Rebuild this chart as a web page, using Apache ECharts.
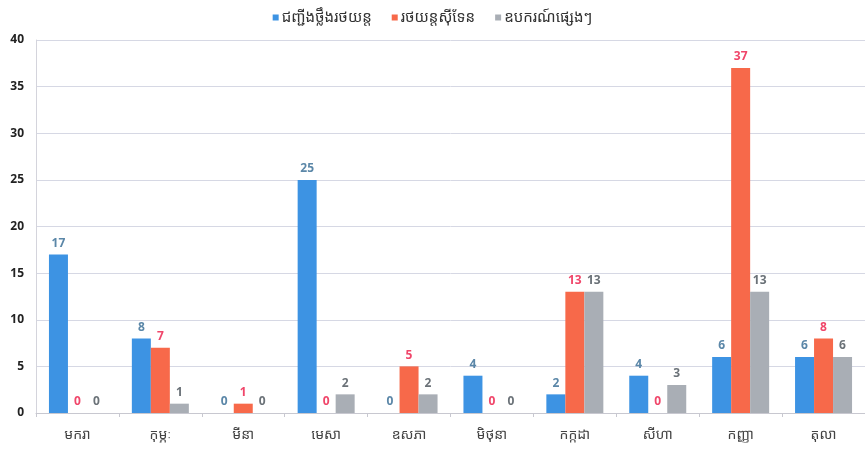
<!DOCTYPE html>
<html>
<head>
<meta charset="utf-8">
<script src="https://cdn.jsdelivr.net/npm/echarts@6/dist/echarts.min.js"></script>
<style>
  html, body { margin: 0; padding: 0; background: #fff; }
  #chart { width: 865px; height: 451px; }
</style>
</head>
<body>
<div id="chart"></div>
<script>
// months (Khmer)
const months = ['មករា', 'កុម្ភៈ', 'មីនា', 'មេសា', 'ឧសភា', 'មិថុនា', 'កក្កដា', 'សីហា', 'កញ្ញា', 'តុលា']
const seriesNames = ['ជញ្ជីងថ្លឹងរថយន្ត', 'រថយន្តស៊ីទែន', 'ឧបករណ៍ផ្សេងៗ']
const truckScale = [17, 8, 0, 25, 0, 4, 2, 4, 6, 6]
const tankerTruck = [0, 7, 1, 0, 5, 0, 13, 0, 37, 8]
const otherTools = [0, 1, 0, 2, 2, 0, 13, 3, 13, 6]
const yTicks = [0, 5, 10, 15, 20, 25, 30, 35, 40]

const khmerFont = '"Noto Sans Khmer", "Khmer OS", "DejaVu Sans", sans-serif'
const barColors = ['#3d93e3', '#f7694a', '#a9aeb5']
const labelColors = ['#5b87a8', '#f0466a', '#6b7278']

const makeSerie = (name, data, i) => ({
  name,
  type: 'bar',
  data,
  barWidth: 19,
  barGap: '0%',
  itemStyle: { color: barColors[i] },
  label: {
    show: true,
    position: 'top',
    distance: 5,
    color: labelColors[i],
    fontSize: 12,
    fontWeight: 'bold',
    fontFamily: '"Open Sans", sans-serif'
  }
})

const chart = echarts.init(document.getElementById('chart'))
chart.setOption({
  animation: false,
  color: barColors,
  legend: {
    top: 5,
    left: 'center',
    itemWidth: 6,
    itemHeight: 6,
    itemGap: 20,
    icon: 'rect',
    textStyle: { fontFamily: khmerFont, fontSize: 15, color: '#333', padding: [0, 0, 0, -2] },
    data: seriesNames
  },
  grid: {
    left: 36,
    right: -6,
    top: 40,
    bottom: 38,
    containLabel: false
  },
  xAxis: {
    type: 'category',
    data: months,
    axisLine: { lineStyle: { color: '#c8c8d0' } },
    axisTick: { show: true, length: 4, lineStyle: { color: '#c8c8d0' } },
    axisLabel: {
      color: '#444',
      fontSize: 14,
      margin: 15,
      fontFamily: khmerFont
    }
  },
  yAxis: {
    type: 'value',
    min: 0,
    max: 40,
    interval: 5,
    axisLine: { show: true, lineStyle: { color: '#d4d4dc' } },
    axisTick: { show: false },
    splitLine: { lineStyle: { color: '#d6d8e4' } },
    axisLabel: {
      color: '#222',
      fontSize: 12,
      fontWeight: 'bold',
      margin: 12,
      fontFamily: '"Open Sans", sans-serif',
      formatter: v => (yTicks.includes(v) ? String(v) : '')
    }
  },
  series: [
    makeSerie(seriesNames[0], truckScale, 0),
    makeSerie(seriesNames[1], tankerTruck, 1),
    makeSerie(seriesNames[2], otherTools, 2)
  ]
})
</script>
</body>
</html>
